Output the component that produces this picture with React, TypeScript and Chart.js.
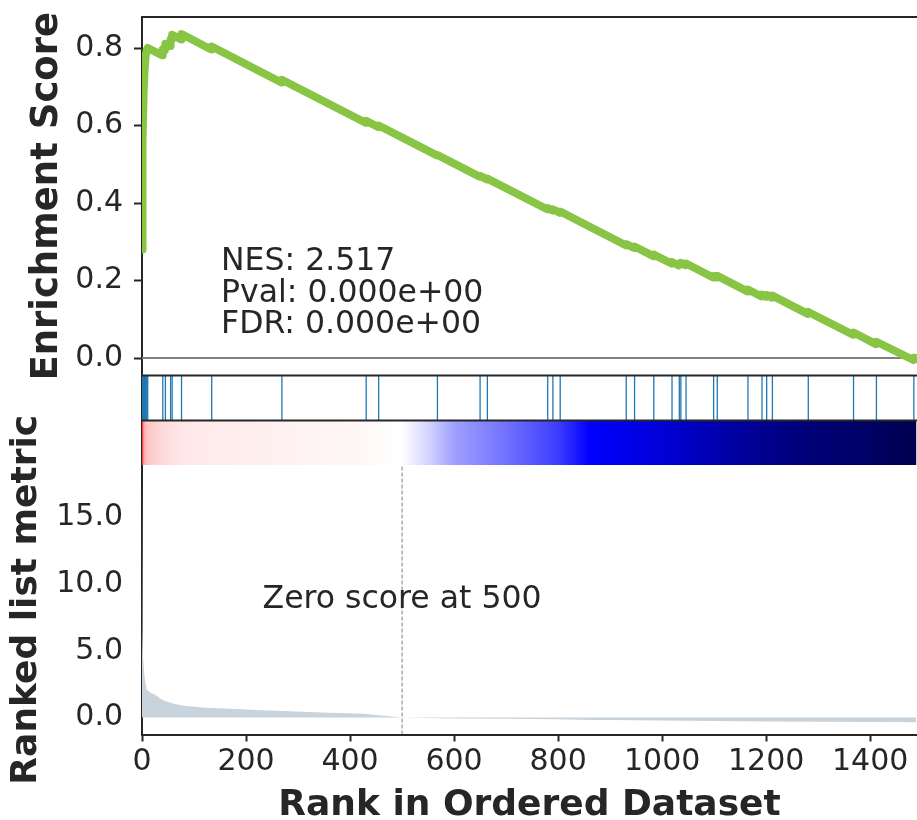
import React, { useEffect, useRef } from 'react';
import { Chart, registerables } from 'chart.js';

Chart.register(...registerables);

// ---------------- data ----------------
const X_MAX = 1490;
const X_TICKS = [0, 200, 400, 600, 800, 1000, 1200, 1400];
const ES_TICKS = [0, 0.2, 0.4, 0.6, 0.8];
const RANK_TICKS = [0, 5, 10, 15];

// running enrichment score (rank, ES)
const ES_RANKS = [0, 1, 3, 5, 7, 9, 11, 39, 40, 44, 45, 54, 55, 57, 58, 75, 76, 133, 134, 268, 269,
  430, 431, 454, 455, 567, 568, 649, 650, 663, 664, 779, 780, 789, 790, 803, 804, 930, 931, 946, 947,
  983, 984, 1018, 1019, 1032, 1033, 1035, 1036, 1045, 1046, 1098, 1099, 1105, 1106, 1164, 1165,
  1191, 1192, 1200, 1201, 1211, 1212, 1280, 1281, 1367, 1368, 1411, 1412, 1483, 1484, 1489];
const ES_VALUES = [0.28, 0.56, 0.68, 0.745, 0.78, 0.795, 0.80, 0.781, 0.797, 0.794, 0.811, 0.805, 0.822, 0.821, 0.834, 0.822, 0.836, 0.796, 0.804, 0.711, 0.718,
  0.607, 0.612, 0.596, 0.600, 0.523, 0.524, 0.468, 0.470, 0.461, 0.463, 0.384, 0.387, 0.381, 0.384, 0.375, 0.378, 0.291, 0.294, 0.284, 0.288,
  0.263, 0.267, 0.244, 0.248, 0.239, 0.243, 0.242, 0.246, 0.240, 0.244, 0.208, 0.212, 0.208, 0.212, 0.172, 0.177,
  0.159, 0.164, 0.158, 0.163, 0.156, 0.161, 0.114, 0.119, 0.060, 0.066, 0.036, 0.042, -0.005, 0.001, 0.0];

// gene set hits (rank positions)
const HIT_RANKS = [0, 1, 3, 5, 7, 9, 11, 40, 45, 55, 58, 76, 134, 269, 431, 455, 568, 650, 664,
  780, 790, 804, 931, 947, 984, 1019, 1033, 1036, 1046, 1099, 1106, 1165, 1192, 1201, 1212,
  1281, 1368, 1412, 1484];

// ranked list metric (rank, value)
const METRIC_RANKS = [0, 1, 2, 3, 5, 9, 15, 25, 38, 47, 60, 79, 100, 130, 169, 220, 297, 360, 425, 470,
  500, 550, 600, 700, 800, 860, 900, 1000, 1100, 1200, 1300, 1400, 1489];
const METRIC_VALUES = [18.0, 6.5, 4.6, 4.0, 3.0, 2.1, 1.9, 1.7, 1.35, 1.2, 1.05, 0.88, 0.8, 0.72, 0.65, 0.56, 0.45, 0.36, 0.28, 0.12,
  0.0, -0.03, -0.067, -0.10, -0.137, -0.18, -0.19, -0.22, -0.26, -0.296, -0.32, -0.335, -0.36];

const ZERO_SCORE_RANK = 500;
const NES = 2.517;
const PVAL = 0;
const FDR = 0;

// ---------------- styling ----------------
const FONT = "'DejaVu Sans', sans-serif";
const INK = '#262626';
const SPINE = '#262626';
const ES_COLOR = '#88C544';
const FILL_COLOR = '#C9D3DB';
const HIT_COLOR = '#1f77b4';
const AXIS_W = 142;
const X_AXIS_H = 85.5;

function sci(v: number) {
  const [m, e] = v.toExponential(3).split('e');
  const n = parseInt(e, 10);
  return m + 'e' + (n < 0 ? '-' : '+') + String(Math.abs(n)).padStart(2, '0');
}

const SEISMIC: [number, number[]][] = [
  [0, [0, 0, 76.5]], [0.25, [0, 0, 255]], [0.5, [255, 255, 255]], [0.75, [255, 0, 0]], [1, [127.5, 0, 0]],
];
const VMAX = Math.max(...METRIC_VALUES);
const VMIN = Math.min(...METRIC_VALUES);
function seismicColor(v: number) {
  const n = v >= 0 ? 0.5 + 0.5 * (v / VMAX) : 0.5 - 0.5 * (v / VMIN);
  for (let i = 0; i < SEISMIC.length - 1; i++) {
    const [a, ca] = SEISMIC[i];
    const [b, cb] = SEISMIC[i + 1];
    if (n >= a && n <= b) {
      const t = (n - a) / (b - a);
      const c = ca.map((x, k) => Math.round(x + (cb[k] - x) * t));
      return `rgb(${c[0]},${c[1]},${c[2]})`;
    }
  }
  return 'rgb(255,255,255)';
}

const decor = {
  id: 'gseaDecor',
  afterDatasetsDraw(chart: any) {
    const { ctx, chartArea, scales } = chart;
    const x = scales.x, yES = scales.yES, yHits = scales.yHits, yRank = scales.yRank;
    ctx.save();
    ctx.strokeStyle = SPINE;
    ctx.lineWidth = 2;
    [yES.top, yHits.top, yHits.bottom].forEach((py: number) => {
      ctx.beginPath();
      ctx.moveTo(chartArea.left - 1, py);
      ctx.lineTo(chartArea.right, py);
      ctx.stroke();
    });
    ctx.fillStyle = INK;
    ctx.font = `31.5px ${FONT}`;
    ctx.textAlign = 'left';
    ctx.textBaseline = 'alphabetic';
    const sx = x.getPixelForValue(152);
    const sy = yES.getPixelForValue(0.226);
    [`NES: ${NES.toFixed(3)}`, `Pval: ${sci(PVAL)}`, `FDR: ${sci(FDR)}`].forEach((t, i) => {
      ctx.fillText(t, sx, sy + i * 31.5);
    });
    ctx.textAlign = 'center';
    ctx.textBaseline = 'middle';
    ctx.fillText(`Zero score at ${ZERO_SCORE_RANK}`, x.getPixelForValue(ZERO_SCORE_RANK), (yRank.top + yRank.bottom) / 2);
    ctx.restore();
  },
};

function yAxis(weight: number, stackWeight: number, min: number, max: number, extra: any) {
  return {
    type: 'linear',
    position: 'left',
    stack: 'gsea',
    stackWeight,
    weight,
    min,
    max,
    offset: false,
    border: { display: true, color: SPINE, width: 2 },
    grid: { drawOnChartArea: false, drawTicks: true, tickLength: 8, tickColor: 'transparent', tickWidth: 2, offset: false },
    ticks: { display: false },
    afterBuildTicks: (s: any) => { s.ticks = []; },
    afterFit: (s: any) => { s.width = AXIS_W; s.paddingTop = 0; s.paddingBottom = 0; },
    ...extra,
  };
}

export default function App() {
  const ref = useRef<HTMLCanvasElement>(null);
  useEffect(() => {
    Chart.defaults.font.family = FONT;
    Chart.defaults.color = INK;
    const esData = ES_RANKS.map((r, i) => ({ x: r, y: ES_VALUES[i] }));
    const metricData = METRIC_RANKS.map((r, i) => ({ x: r, y: METRIC_VALUES[i] }));
    const hitData = HIT_RANKS.map((r) => ({ x: r, y: [0, 1] }));
    const cfg: any = {
      type: 'line',
      data: {
        datasets: [
          {
            type: 'line', data: esData, yAxisID: 'yES', borderColor: ES_COLOR, borderWidth: 8,
            pointRadius: 0, fill: false, tension: 0, borderJoinStyle: 'round', borderCapStyle: 'butt',
          },
          {
            type: 'line', data: [{ x: 0, y: 0 }, { x: X_MAX, y: 0 }], yAxisID: 'yES', borderColor: '#808080',
            borderWidth: 2, pointRadius: 0, fill: false,
          },
          {
            type: 'bar', data: hitData, yAxisID: 'yHits', backgroundColor: HIT_COLOR, borderWidth: 0,
            barThickness: 1.3, inflateAmount: 0, grouped: false,
          },
          {
            type: 'line',
            data: [{ x: METRIC_RANKS[0], y: 1 }, { x: METRIC_RANKS[METRIC_RANKS.length - 1], y: 1 }],
            yAxisID: 'yCmap', borderWidth: 0, pointRadius: 0, fill: 'start',
            backgroundColor: (c: any) => {
              const chart = c.chart;
              const xs = chart.scales && chart.scales.x;
              if (!chart.chartArea || !xs) return '#ffffff';
              const p0 = xs.getPixelForValue(METRIC_RANKS[0]);
              const p1 = xs.getPixelForValue(METRIC_RANKS[METRIC_RANKS.length - 1]);
              const g = chart.ctx.createLinearGradient(p0, 0, p1, 0);
              METRIC_RANKS.forEach((r, i) => {
                g.addColorStop(Math.min(1, Math.max(0, (xs.getPixelForValue(r) - p0) / (p1 - p0))), seismicColor(METRIC_VALUES[i]));
              });
              return g;
            },
          },
          {
            type: 'line', data: [{ x: ZERO_SCORE_RANK, y: -1.27 }, { x: ZERO_SCORE_RANK, y: 18.9 }], yAxisID: 'yRank',
            borderColor: '#808080', borderWidth: 1, borderDash: [4, 2], pointRadius: 0, fill: false,
          },
          {
            type: 'line', data: metricData, yAxisID: 'yRank', borderWidth: 0, borderColor: FILL_COLOR,
            backgroundColor: FILL_COLOR, pointRadius: 0, fill: 'origin', tension: 0,
          },
        ],
      },
      options: {
        responsive: false,
        animation: false,
        events: [],
        layout: { padding: { top: 17, left: 0, right: 0, bottom: 0 } },
        plugins: { legend: { display: false }, tooltip: { enabled: false } },
        scales: {
          x: {
            type: 'linear', position: 'bottom', min: 0, max: X_MAX, offset: false,
            border: { display: true, color: SPINE, width: 2 },
            grid: { drawOnChartArea: false, drawTicks: true, tickLength: 7, tickColor: SPINE, tickWidth: 2, offset: false },
            ticks: { font: { size: 30 }, color: INK, padding: 2.5, maxRotation: 0, autoSkip: false, callback: (v: any) => String(v) },
            afterBuildTicks: (s: any) => { s.ticks = X_TICKS.map((v) => ({ value: v })); },
            title: { display: true, text: 'Rank in Ordered Dataset', color: INK, font: { size: 36, weight: 'bold', lineHeight: 0.78 }, padding: { top: 0, bottom: 0 } },
            afterFit: (s: any) => { s.height = X_AXIS_H; s.paddingLeft = 0; s.paddingRight = 0; },
          },
          yES: yAxis(4, 358.5, -0.045, 0.88, {
            grid: { drawOnChartArea: false, drawTicks: true, tickLength: 8, tickColor: SPINE, tickWidth: 2, offset: false },
            ticks: { display: true, font: { size: 30 }, color: INK, padding: 11, callback: (v: any) => Number(v).toFixed(1) },
            afterBuildTicks: (s: any) => { s.ticks = ES_TICKS.map((v) => ({ value: v })); },
            title: { display: true, text: 'Enrichment Score', color: INK, font: { size: 37, weight: 'bold' }, padding: { top: 24.8, bottom: 0 } },
          }),
          yHits: yAxis(3, 45, 0, 1, {}),
          yCmap: yAxis(2, 44.5, 0, 1, {}),
          yRank: yAxis(1, 269.5, -1.27, 18.9, {
            ticks: { display: true, font: { size: 30 }, color: INK, padding: 11, callback: (v: any) => Number(v).toFixed(1) },
            afterBuildTicks: (s: any) => { s.ticks = RANK_TICKS.map((v) => ({ value: v })); },
            title: { display: true, text: 'Ranked list metric', color: INK, font: { size: 36, weight: 'bold' }, padding: { top: 5.4, bottom: 0 } },
          }),
        },
      },
      plugins: [decor],
    };
    const chart = new Chart(ref.current as HTMLCanvasElement, cfg);
    return () => chart.destroy();
  }, []);
  return (
    <div style={{ position: 'fixed', left: 0, top: 0, width: 917, height: 820, background: '#ffffff', overflow: 'hidden' }}>
      <canvas ref={ref} width={917} height={820} style={{ display: 'block', width: 917, height: 820 }} />
    </div>
  );
}
